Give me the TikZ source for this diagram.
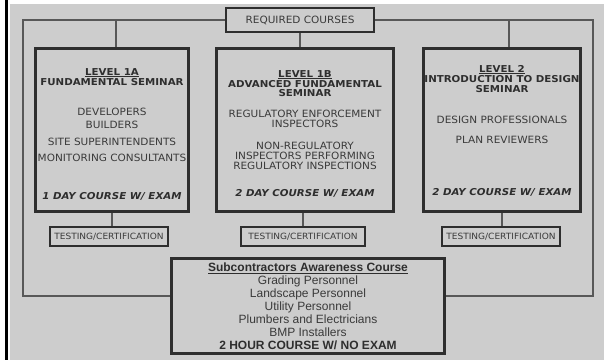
\documentclass[tikz,border=0pt]{standalone}
\usepackage{fontspec}
\setmainfont{DejaVu Sans}[FakeStretch=1.05]
\newfontfamily\headface{DejaVu Sans}[FakeStretch=1.08]
\newfontfamily\arialfont{Liberation Sans}
\usetikzlibrary{positioning}
\definecolor{panel}{HTML}{CDCDCD}
\definecolor{ink}{HTML}{3A3A3A}
\definecolor{edge}{HTML}{2E2E2E}
\definecolor{wire}{HTML}{585858}

\begin{document}
\begin{tikzpicture}[x=1pt, y=-1pt, font=\fontsize{10}{12}\selectfont, text=ink,
  seminar/.style={draw=edge, line width=2.6pt, minimum height=163.4, inner sep=0pt},
  testbox/.style={draw=edge, line width=1.8pt, minimum width=118, minimum height=19, inner sep=0pt, font=\fontsize{8.6}{10}\selectfont},
  wireline/.style={draw=wire, line width=1.1pt},
  head/.style={anchor=base, inner sep=0pt, font=\headface\fontsize{9.5}{11}\selectfont\bfseries, text=edge},
  item/.style={anchor=base, inner sep=0pt},
  exam/.style={anchor=base, inner sep=0pt, font=\headface\fontsize{9.5}{11}\selectfont\bfseries\itshape, text=edge},
  rule/.style={draw=edge, line width=0.8pt}]
  \useasboundingbox (0,0) rectangle (604,360);
  \fill[white] (0,0) rectangle (604,360);
  \fill[panel] (10,4) rectangle (604,360);
  \fill[black] (5,0) rectangle (8,360);

  \node[draw=edge, line width=1.8pt, minimum width=148, minimum height=24, inner sep=0pt] (req) at (300,20) {REQUIRED COURSES};

  % outer frame round all courses
  \coordinate (nw) at (23,20);
  \coordinate (ne) at (593,20);
  \coordinate (sw) at (23,296);
  \coordinate (se) at (593,296);
  \draw[wireline] (req.west) -- (nw) -- (sw) -- (se) -- (ne) -- (req.east);

  \node[seminar, minimum width=153.4] (l1a) at (112,130) {};
  \node[seminar, minimum width=177.4] (l1b) at (305,130) {};
  \node[seminar, minimum width=157.4] (l2) at (502,130) {};

  \coordinate (ja) at (116,20);
  \coordinate (jc) at (509,20);
  \draw[wireline] (ja) -- (ja |- l1a.north);
  \draw[wireline] (req.south) -- (req.south |- l1b.north);
  \draw[wireline] (jc) -- (jc |- l2.north);

  % level 1A
  \node[head] (l1a-t) at (112,75.2) {LEVEL 1A};
  \node[head] (l1a-s) at (112,85.5) {FUNDAMENTAL SEMINAR};
  \foreach \yy/\txt [count=\i] in {115.6/DEVELOPERS, 128.6/BUILDERS, 145.6/SITE SUPERINTENDENTS, 161.6/MONITORING CONSULTANTS}
    \node[item] (l1a-\i) at (112,\yy) {\txt};
  \node[exam] (l1a-e) at (112,199.5) {1 DAY COURSE W/ EXAM};

  % level 1B
  \node[head] (l1b-t) at (305,77.2) {LEVEL 1B};
  \node[head] (l1b-s) at (305,87.5) {ADVANCED FUNDAMENTAL};
  \node[head] (l1b-s2) at (305,96.5) {SEMINAR};
  \foreach \yy/\txt [count=\i] in {117.6/REGULATORY ENFORCEMENT, 127.6/INSPECTORS, 149.6/NON-REGULATORY, 159.6/INSPECTORS PERFORMING, 169.6/REGULATORY INSPECTIONS}
    \node[item] (l1b-\i) at (305,\yy) {\txt};
  \node[exam] (l1b-e) at (305,196.5) {2 DAY COURSE W/ EXAM};

  % level 2
  \node[head] (l2-t) at (502,72.2) {LEVEL 2};
  \node[head] (l2-s) at (502,82.5) {INTRODUCTION TO DESIGN};
  \node[head] (l2-s2) at (502,92.5) {SEMINAR};
  \foreach \yy/\txt [count=\i] in {123.6/DESIGN PROFESSIONALS, 143.6/PLAN REVIEWERS}
    \node[item] (l2-\i) at (502,\yy) {\txt};
  \node[exam] (l2-e) at (502,195.5) {2 DAY COURSE W/ EXAM};

  % underlines of the level titles
  \foreach \n in {l1a-t, l1b-t, l2-t}
    \draw[rule] ([yshift=-1.1pt]\n.base west) -- ([yshift=-1.1pt]\n.base east);

  \node[testbox] (t1a) at (109,236.5) {TESTING/CERTIFICATION};
  \node[testbox, minimum width=124] (t1b) at (303,236.5) {TESTING/CERTIFICATION};
  \node[testbox] (t2) at (501,236.5) {TESTING/CERTIFICATION};
  \draw[wireline] (l1a.south) -- (l1a.south |- t1a.north);
  \draw[wireline] (t1b.north |- l1b.south) -- (t1b.north);
  \draw[wireline] (l2.south) -- (l2.south |- t2.north);

  \node[draw=edge, line width=2.6pt, fill=panel, minimum width=273.4, minimum height=95.4, inner sep=0pt, align=center, text=ink, font=\arialfont\fontsize{12}{13}\selectfont] (sub) at (308,306)
    {\textcolor{edge}{\textbf{\underline{Subcontractors Awareness Course}}}\\
     Grading Personnel\\
     Landscape Personnel\\
     Utility Personnel\\
     Plumbers and Electricians\\
     BMP Installers\\
     \textcolor{edge}{\textbf{2 HOUR COURSE W/ NO EXAM}}};
\end{tikzpicture}
\end{document}
